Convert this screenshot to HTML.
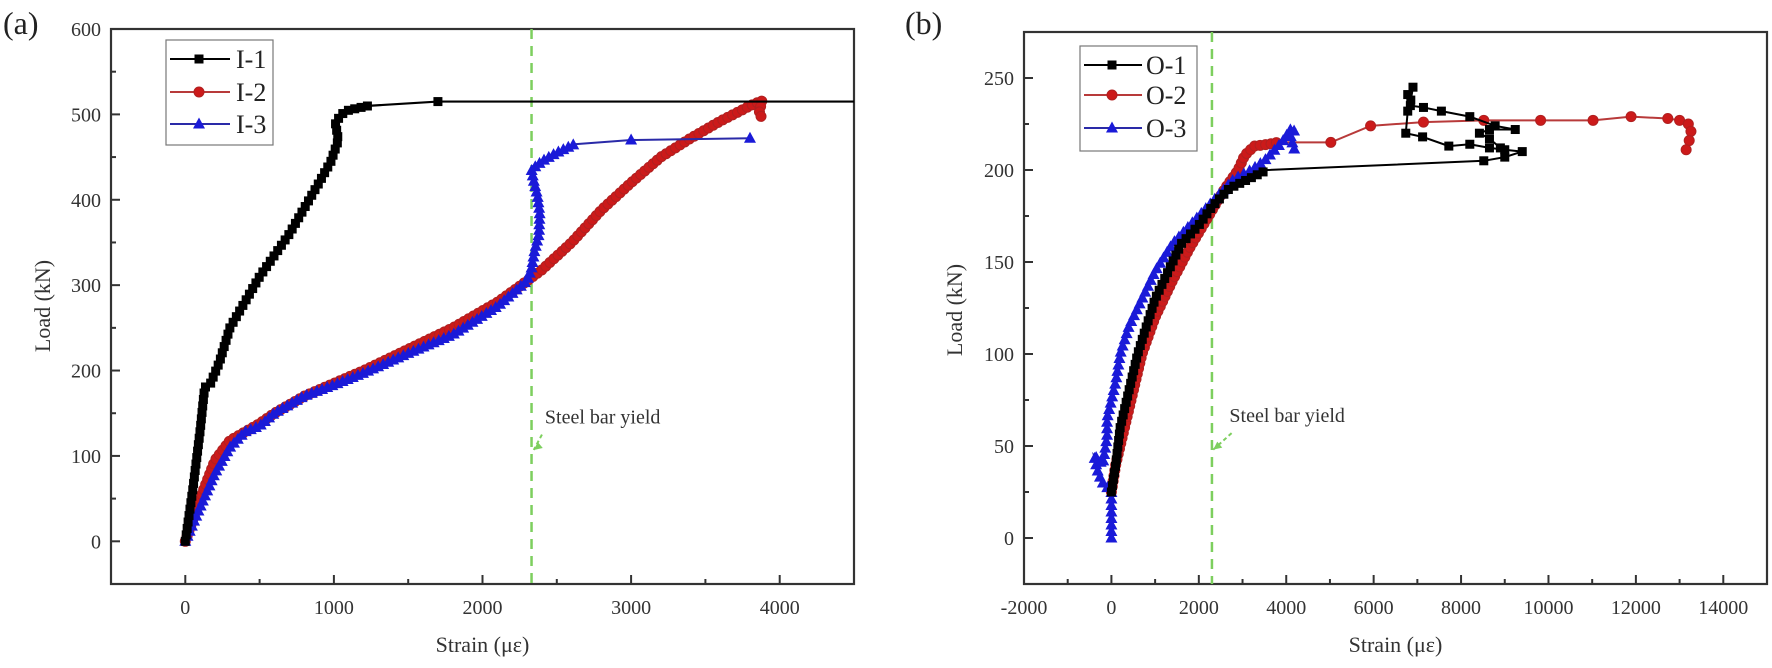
<!DOCTYPE html>
<html><head><meta charset="utf-8"><style>
html,body{margin:0;padding:0;background:#fff;}
svg{display:block;font-family:"Liberation Serif",serif;}
</style></head><body>
<svg id="s" width="1772" height="668" viewBox="0 0 1772 668" xmlns="http://www.w3.org/2000/svg"></svg>
<script>
const S=document.getElementById('s');let H='';
const PA={x0:111,x1:854,y0:584,y1:29,xmin:-500,xmax:4500,ymin:-50,ymax:600};
const PB={x0:1024,x1:1767,y0:584,y1:32,xmin:-2000,xmax:15000,ymin:-25,ymax:275};
function X(p,v){return p.x0+(v-p.xmin)/(p.xmax-p.xmin)*(p.x1-p.x0);}
function Y(p,v){return p.y0+(v-p.ymin)/(p.ymax-p.ymin)*(p.y1-p.y0);}
function axes(p,xt,xminor,yt,yminor){
  H+=`<rect x="${p.x0}" y="${p.y1}" width="${p.x1-p.x0}" height="${p.y0-p.y1}" fill="none" stroke="#333" stroke-width="2.2"/>`;
  xt.forEach(v=>{const x=X(p,v);H+=`<line x1="${x}" y1="${p.y0}" x2="${x}" y2="${p.y0-9}" stroke="#333" stroke-width="2"/><text x="${x}" y="${p.y0+30}" font-size="20" text-anchor="middle" fill="#333">${v}</text>`;});
  xminor.forEach(v=>{const x=X(p,v);H+=`<line x1="${x}" y1="${p.y0}" x2="${x}" y2="${p.y0-5}" stroke="#333" stroke-width="2"/>`;});
  yt.forEach(v=>{const y=Y(p,v);H+=`<line x1="${p.x0}" y1="${y}" x2="${p.x0+9}" y2="${y}" stroke="#333" stroke-width="2"/><text x="${p.x0-10}" y="${y+7}" font-size="20" text-anchor="end" fill="#333">${v}</text>`;});
  yminor.forEach(v=>{const y=Y(p,v);H+=`<line x1="${p.x0}" y1="${y}" x2="${p.x0+5}" y2="${y}" stroke="#333" stroke-width="2"/>`;});
}
function mk(type,x,y,c){
  if(type=='s')return `<rect x="${x-4.5}" y="${y-4.5}" width="9" height="9" fill="${c}"/>`;
  if(type=='c')return `<circle cx="${x}" cy="${y}" r="5" fill="${c}" stroke="#b02020" stroke-width="1"/>`;
  return `<polygon points="${x},${y-6.5} ${x-6},${y+4.5} ${x+6},${y+4.5}" fill="${c}"/>`;
}
function series(p,pts,lc,mc,type,dense,step,lw){
  const P=pts.map(q=>[X(p,q[0]),Y(p,q[1])]);
  H+=`<polyline points="${P.map(q=>q.join(',')).join(' ')}" fill="none" stroke="${lc}" stroke-width="${lw||2}"/>`;
  let m='';let acc=0;
  m+=mk(type,P[0][0],P[0][1],mc);
  for(let i=1;i<P.length;i++){
    const [ax,ay]=P[i-1],[bx,by]=P[i];const d=Math.hypot(bx-ax,by-ay);
    if(i<=dense){
      let t=step-acc;
      while(t<=d){m+=mk(type,ax+(bx-ax)*t/d,ay+(by-ay)*t/d,mc);t+=step;}
      acc=(acc+d)%step;
    }else{ if(!(pts[i][2]===0)) m+=mk(type,bx,by,mc);}
  }
  H+=m;
}
axes(PA,[0,1000,2000,3000,4000],[500,1500,2500,3500],[0,100,200,300,400,500,600],[-50,50,150,250,350,450,550]);
H+=`<line x1="${X(PA,2330)}" y1="${PA.y1}" x2="${X(PA,2330)}" y2="${PA.y0}" stroke="#7dcf5e" stroke-width="2.5" stroke-dasharray="10,7"/>`;
const I2=[[0,0],[100,50],[200,95],[300,118],[500,138],[600,150],[800,170],[1000,185],[1200,200],[1500,225],[1800,250],[2100,280],[2300,305],[2400,318],[2600,350],[2800,388],[3000,420],[3200,450],[3400,472],[3600,492],[3800,510],[3880,516],[3860,500],[3890,495]];
series(PA,I2,'#b83a3a','#cc1a1a','c',23,5.5);
const I3=[[0,0],[100,40],[200,80],[300,110],[400,128],[500,135],[600,150],[800,170],[1000,183],[1200,197],[1500,220],[1800,242],[2100,275],[2300,305],[2330,320],[2350,340],[2380,360],[2385,385],[2370,405],[2345,422],[2330,435],[2400,445],[2500,455],[2620,465],[3000,470],[3800,472]];
series(PA,I3,'#2a2aa8','#1a1ad8','t',23,5.5);
const I1=[[0,0],[50,60],[100,130],[130,180],[170,185],[230,210],[300,250],[400,280],[500,310],[600,335],[700,360],[800,390],[900,420],[980,445],[1030,470],[1010,490],[1050,500],[1100,505],[1230,510],[1700,515],[4500,515,0]];
series(PA,I1,'#000','#000','s',18,6.5,2.2);
{const tx=X(PA,2420),ty=Y(PA,138);
H+=`<text x="${tx}" y="${ty}" font-size="20" fill="#333">Steel bar yield</text>`;
const ax=X(PA,2400),ay=Y(PA,125),bx=X(PA,2345),by=Y(PA,107);
H+=`<line x1="${ax}" y1="${ay}" x2="${bx}" y2="${by}" stroke="#7dcf5e" stroke-width="2" stroke-dasharray="4,3"/><polygon points="${bx},${by} ${bx+9},${by-2} ${bx+4},${by-8}" fill="#7dcf5e"/>`;}
H+=`<rect x="166" y="40" width="107" height="105" fill="#fff" stroke="#777" stroke-width="1.2"/>`;
[['I-1','#000','#000','s',59],['I-2','#b83a3a','#cc1a1a','c',92],['I-3','#2a2aa8','#1a1ad8','t',124]].forEach(e=>{
H+=`<line x1="170" y1="${e[4]}" x2="230" y2="${e[4]}" stroke="${e[1]}" stroke-width="2"/>`+mk(e[3],199,e[4],e[2])+`<text x="236" y="${e[4]+9}" font-size="26" fill="#222">${e[0]}</text>`;});
H+=`<text x="3" y="34" font-size="32" fill="#222">(a)</text>`;
H+=`<text transform="translate(50,306) rotate(-90)" font-size="22" text-anchor="middle" fill="#333">Load (kN)</text>`;
H+=`<text x="${(PA.x0+PA.x1)/2}" y="652" font-size="22" text-anchor="middle" fill="#333">Strain (με)</text>`;

axes(PB,[-2000,0,2000,4000,6000,8000,10000,12000,14000],[-1000,1000,3000,5000,7000,9000,11000,13000],[0,50,100,150,200,250],[-25,25,75,125,175,225]);
H+=`<line x1="${X(PB,2300)}" y1="${PB.y1}" x2="${X(PB,2300)}" y2="${PB.y0}" stroke="#7dcf5e" stroke-width="2.5" stroke-dasharray="10,7"/>`;
const O2=[[0,25],[100,40],[300,60],[500,80],[700,100],[1000,120],[1400,140],[1800,158],[2200,174],[2600,190],[2900,200],[3050,208],[3270,213],[3600,214],[3800,215],[5020,215,1],[5930,224],[7140,226],[8520,227],[9820,227],[11020,227],[11890,229],[12730,228],[13000,227],[13200,225],[13260,221],[13220,216],[13150,211]];
series(PB,O2,'#b83a3a','#cc1a1a','c',14,5.5);
const O3=[[0,0],[0,25],[-200,30],[-300,35],[-400,45],[-200,40],[-100,55],[-100,65],[0,75],[100,85],[200,100],[400,115],[700,130],[1000,145],[1400,160],[1800,170],[2400,185],[2800,195],[3200,200],[3500,205],[3700,210],[3900,215],[4100,222],[4200,222],[4100,218],[4200,210]];
series(PB,O3,'#2a2aa8','#1a1ad8','t',25,6.5);
const O1=[[0,25],[100,40],[200,60],[400,80],[600,100],[800,115],[1000,130],[1300,145],[1600,160],[2000,170],[2300,180],[2700,190],[3560,200],[8520,205],[9000,207],[9400,210],[9000,211],[8650,212],[8200,214],[7720,213],[7120,218],[6735,220],[6780,232],[6780,241],[6900,245],[6850,238],[6840,235],[7140,234],[7550,232],[8200,229],[8780,224],[9240,222],[8650,222],[8420,220],[8650,217],[8900,212]];
series(PB,O1,'#000','#000','s',12,6.5,2);
{const tx=X(PB,2700),ty=Y(PB,63);
H+=`<text x="${tx}" y="${ty}" font-size="20" fill="#333">Steel bar yield</text>`;
const ax=X(PB,2750),ay=Y(PB,57),bx=X(PB,2330),by=Y(PB,48);
H+=`<line x1="${ax}" y1="${ay}" x2="${bx}" y2="${by}" stroke="#7dcf5e" stroke-width="2" stroke-dasharray="4,3"/><polygon points="${bx},${by} ${bx+9},${by-2} ${bx+4},${by-8}" fill="#7dcf5e"/>`;}
H+=`<rect x="1080" y="46" width="117" height="105" fill="#fff" stroke="#777" stroke-width="1.2"/>`;
[['O-1','#000','#000','s',65],['O-2','#b83a3a','#cc1a1a','c',95],['O-3','#2a2aa8','#1a1ad8','t',128]].forEach(e=>{
H+=`<line x1="1084" y1="${e[4]}" x2="1142" y2="${e[4]}" stroke="${e[1]}" stroke-width="2"/>`+mk(e[3],1112,e[4],e[2])+`<text x="1146" y="${e[4]+9}" font-size="26" fill="#222">${e[0]}</text>`;});
H+=`<text x="905" y="34" font-size="32" fill="#222">(b)</text>`;
H+=`<text transform="translate(962,310) rotate(-90)" font-size="22" text-anchor="middle" fill="#333">Load (kN)</text>`;
H+=`<text x="${(PB.x0+PB.x1)/2}" y="652" font-size="22" text-anchor="middle" fill="#333">Strain (με)</text>`;
S.innerHTML=H;
</script>
</body></html>
